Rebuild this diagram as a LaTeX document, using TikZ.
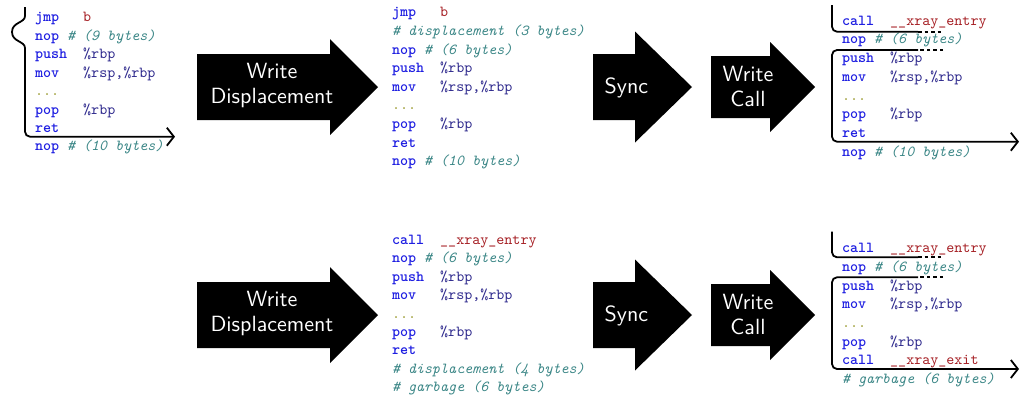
\documentclass[tikz,border=0pt]{standalone}
\usepackage{graphicx}
\usetikzlibrary{arrows.meta}

% listing colours
\definecolor{kwblue}{RGB}{30,30,225}
\definecolor{regblue}{RGB}{45,40,140}
\definecolor{lblred}{RGB}{165,30,35}
\definecolor{cmteal}{RGB}{60,135,135}
\definecolor{dotolive}{RGB}{160,160,60}

% assembly listing helpers
\newcommand\kw[1]{{\bfseries\color{kwblue}#1}}
\newcommand\rg[1]{{\color{regblue}#1}}
\newcommand\lb[1]{{\color{lblred}#1}}
\newcommand\cm[1]{{\itshape\color{cmteal}#1}}
\newcommand\dt{{\color{dotolive}...}}
\newcommand\ins[2]{\makebox[31.5pt][l]{\kw{#1}}#2}
\newcommand\codetext[1]{\scalebox{1.53}{\fontsize{10}{12}\selectfont\ttfamily #1}}
\newcommand\steplabel[1]{\scalebox{2.2}{\fontsize{10}{11.4}\selectfont\sffamily
  \begin{tabular}{@{}c@{}}#1\end{tabular}}}

\tikzset{
  codeline/.style={anchor=base west, inner sep=0pt, outer sep=0pt},
  flow/.style={line width=1.8pt, rounded corners=5pt},
  flowgap/.style={line width=1.8pt, dash pattern=on 3.5pt off 3pt},
  flowtip/.style={-{Straight Barb[length=7pt,width=18pt]}},
  bigarrow/.style={fill=black},
  arrowlabel/.style={text=white, inner sep=0pt},
}

\begin{document}
\begin{tikzpicture}[x=1pt, y=-1pt]
\useasboundingbox (0,0) rectangle (1021,397);

% ---------------- original function ----------------
\foreach \t [count=\i from 0] in {
  {\ins{jmp}{\lb{b}}},
  {\kw{nop} \cm{\# (9 bytes)}},
  {\ins{push}{\rg{\%rbp}}},
  {\ins{mov}{\rg{\%rsp,\%rbp}}},
  {\dt},
  {\ins{pop}{\rg{\%rbp}}},
  {\kw{ret}},
  {\kw{nop} \cm{\# (10 bytes)}}}
  \node[codeline] (a\i) at (35, 21.8+18.45*\i) {\codetext{\t}};

\coordinate (aTop) at (25,7);
\coordinate (aBrace) at (25,48);
\coordinate (aEnd) at (175,136.7);
\draw[line width=1.8pt] (aTop) -- (25,16)
  .. controls (25,23) and (12,22) .. (12,32)
  .. controls (12,42) and (25,41) .. (aBrace);
\draw[flow, flowtip] (aBrace) -- (25,136.7) -- (aEnd);

% ---------------- top row ----------------
\fill[bigarrow] (197,54) -- (330,54) -- (330,39) -- (378,87) -- (330,135) -- (330,120) -- (197,120) -- cycle;
\node[arrowlabel] (wd1) at (272,86) {\steplabel{Write\\Displacement}};

\foreach \t [count=\i from 0] in {
  {\ins{jmp}{\lb{b}}},
  {\cm{\# displacement (3 bytes)}},
  {\kw{nop} \cm{\# (6 bytes)}},
  {\ins{push}{\rg{\%rbp}}},
  {\ins{mov}{\rg{\%rsp,\%rbp}}},
  {\dt},
  {\ins{pop}{\rg{\%rbp}}},
  {\kw{ret}},
  {\kw{nop} \cm{\# (10 bytes)}}}
  \node[codeline] (b\i) at (392, 16.8+18.6*\i) {\codetext{\t}};

\fill[bigarrow] (593,54) -- (635,54) -- (635,31.5) -- (692,87) -- (635,142.5) -- (635,120) -- (593,120) -- cycle;
\node[arrowlabel] (sy1) at (626.5,88) {\steplabel{Sync}};

\fill[bigarrow] (711,56) -- (770,56) -- (770,42) -- (815,87) -- (770,132) -- (770,118) -- (711,118) -- cycle;
\node[arrowlabel] (wc1) at (748,89) {\steplabel{Write\\Call}};

\foreach \t [count=\i from 0] in {
  {\ins{call}{\lb{\_\_xray\_entry}}},
  {\kw{nop} \cm{\# (6 bytes)}},
  {\ins{push}{\rg{\%rbp}}},
  {\ins{mov}{\rg{\%rsp,\%rbp}}},
  {\dt},
  {\ins{pop}{\rg{\%rbp}}},
  {\kw{ret}},
  {\kw{nop} \cm{\# (10 bytes)}}}
  \node[codeline] (c\i) at (842, 25.2+18.7*\i) {\codetext{\t}};

\coordinate (cTop) at (832,5);
\coordinate (cOut) at (918,31.7);
\coordinate (cJump) at (943,31.7);
\coordinate (cLand) at (943,50);
\coordinate (cIn) at (918,50);
\coordinate (cEnd) at (1019,141.7);
\draw[flow] (cTop) -- (832,31.7) -- (cOut);
\draw[flowgap] (cOut) -- (cJump);
\draw[flowgap] (cLand) -- (cIn);
\draw[flow, flowtip] (cIn) -- (832,50) -- (832,141.7) -- (cEnd);

% ---------------- bottom row ----------------
\fill[bigarrow] (197,282) -- (330,282) -- (330,267) -- (378,315) -- (330,363) -- (330,348) -- (197,348) -- cycle;
\node[arrowlabel] (wd2) at (272,314) {\steplabel{Write\\Displacement}};

\foreach \t [count=\i from 0] in {
  {\ins{call}{\lb{\_\_xray\_entry}}},
  {\kw{nop} \cm{\# (6 bytes)}},
  {\ins{push}{\rg{\%rbp}}},
  {\ins{mov}{\rg{\%rsp,\%rbp}}},
  {\dt},
  {\ins{pop}{\rg{\%rbp}}},
  {\kw{ret}},
  {\cm{\# displacement (4 bytes)}},
  {\cm{\# garbage (6 bytes)}}}
  \node[codeline] (d\i) at (392, 244.2+18.45*\i) {\codetext{\t}};

\fill[bigarrow] (593,282) -- (635,282) -- (635,259.5) -- (692,315) -- (635,370.5) -- (635,348) -- (593,348) -- cycle;
\node[arrowlabel] (sy2) at (626.5,316) {\steplabel{Sync}};

\fill[bigarrow] (711,284) -- (770,284) -- (770,270) -- (815,315) -- (770,360) -- (770,346) -- (711,346) -- cycle;
\node[arrowlabel] (wc2) at (748,317) {\steplabel{Write\\Call}};

\foreach \t [count=\i from 0] in {
  {\ins{call}{\lb{\_\_xray\_entry}}},
  {\kw{nop} \cm{\# (6 bytes)}},
  {\ins{push}{\rg{\%rbp}}},
  {\ins{mov}{\rg{\%rsp,\%rbp}}},
  {\dt},
  {\ins{pop}{\rg{\%rbp}}},
  {\ins{call}{\lb{\_\_xray\_exit}}},
  {\cm{\# garbage (6 bytes)}}}
  \node[codeline] (e\i) at (842, 252.8+18.67*\i) {\codetext{\t}};

\coordinate (eTop) at (832,231.7);
\coordinate (eOut) at (918,257.3);
\coordinate (eJump) at (943,257.3);
\coordinate (eLand) at (943,277.3);
\coordinate (eIn) at (918,277.3);
\coordinate (eEnd) at (1019,369);
\draw[flow] (eTop) -- (832,257.3) -- (eOut);
\draw[flowgap] (eOut) -- (eJump);
\draw[flowgap] (eLand) -- (eIn);
\draw[flow, flowtip] (eIn) -- (832,277.3) -- (832,369) -- (eEnd);
\end{tikzpicture}
\end{document}
